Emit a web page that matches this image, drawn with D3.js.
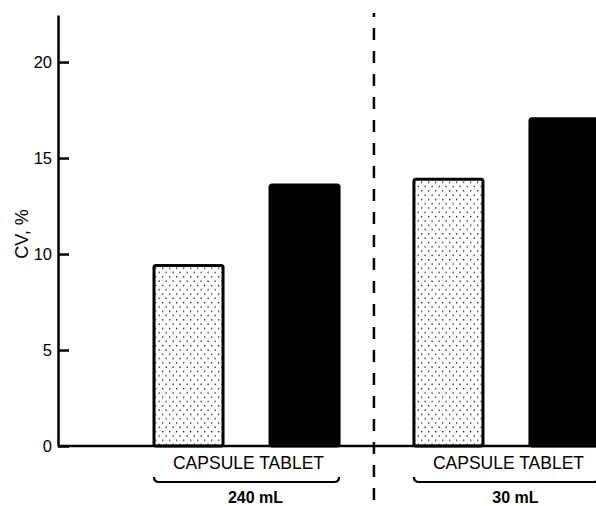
<!DOCTYPE html>
<html>
<head>
<meta charset="utf-8">
<script src="https://cdn.jsdelivr.net/npm/d3@7"></script>
<style>
  body { margin: 0; background: #fff; }
  text { font-family: "Liberation Sans", Arial, Helvetica, sans-serif; fill: #000; }
</style>
</head>
<body>
<div id="chart"></div>
<script>
// Data
const volumes = ["240 mL", "30 mL"];
const forms = ["CAPSULE", "TABLET"];
const cv240 = [9.4, 13.6];
const cv30 = [13.9, 17.05];
const yTicks = [0, 5, 10, 15, 20];

const data = [];
volumes.forEach((v, i) => {
  const vals = i === 0 ? cv240 : cv30;
  forms.forEach((f, j) => data.push({ volume: v, form: f, value: vals[j] }));
});

const width = 596, height = 506;

const svg = d3.select("#chart")
  .append("svg")
  .attr("width", width)
  .attr("height", height);

// dotted fill for capsules
const defs = svg.append("defs");
const pat = defs.append("pattern")
  .attr("id", "dots")
  .attr("patternUnits", "userSpaceOnUse")
  .attr("width", 7)
  .attr("height", 8.6);
pat.append("rect").attr("x", 1).attr("y", 1).attr("width", 1.3).attr("height", 1.3).attr("fill", "#111");
pat.append("rect").attr("x", 4.5).attr("y", 5.3).attr("width", 1.3).attr("height", 1.3).attr("fill", "#111");

// Scales
const y = d3.scaleLinear()
  .domain([0, 22.45])
  .range([446, 15]);

const xGroup = d3.scaleBand()
  .domain(volumes)
  .range([154, 599])
  .paddingInner(0.288)
  .paddingOuter(0);

const xForm = d3.scaleBand()
  .domain(forms)
  .range([0, xGroup.bandwidth()])
  .paddingInner(0.405)
  .paddingOuter(0);

const axisX = 58;

// Y axis, ticks pointing inward
const yAxis = d3.axisLeft(y)
  .tickValues(yTicks)
  .tickSizeInner(-11)
  .tickSizeOuter(0)
  .tickPadding(6);

const gy = svg.append("g")
  .attr("transform", `translate(${axisX},0)`)
  .call(yAxis);
gy.select(".domain").attr("stroke", "#000").attr("stroke-width", 2.5);
gy.selectAll(".tick line").attr("stroke", "#000").attr("stroke-width", 2.5);
gy.selectAll(".tick text")
  .attr("font-size", 16.5)
  .attr("font-family", "Liberation Sans, Arial, sans-serif")
  .attr("fill", "#000");

// Y label
svg.append("text")
  .attr("transform", `translate(28,${234}) rotate(-90)`)
  .attr("text-anchor", "middle")
  .attr("font-size", 18)
  .text("CV, %");

// Baseline
svg.append("line")
  .attr("x1", axisX)
  .attr("x2", width)
  .attr("y1", y(0))
  .attr("y2", y(0))
  .attr("stroke", "#000")
  .attr("stroke-width", 2.5);

// Bars
svg.selectAll(".bar")
  .data(data)
  .join("rect")
  .attr("class", "bar")
  .attr("x", d => xGroup(d.volume) + xForm(d.form))
  .attr("y", d => y(d.value))
  .attr("width", xForm.bandwidth())
  .attr("height", d => y(0) - y(d.value))
  .attr("rx", 2)
  .attr("fill", d => d.form === "CAPSULE" ? "url(#dots)" : "#000")
  .attr("stroke", "#000")
  .attr("stroke-width", 3);

// Dashed separator
const sepX = xGroup(volumes[1]) - 40;
svg.append("line")
  .attr("x1", sepX)
  .attr("x2", sepX)
  .attr("y1", 13)
  .attr("y2", height)
  .attr("stroke", "#000")
  .attr("stroke-width", 2.5)
  .attr("stroke-dasharray", "12,11")
  .attr("stroke-dashoffset", 8);

// Group labels and brackets
volumes.forEach(v => {
  const x0 = xGroup(v);
  const x1 = x0 + xGroup.bandwidth();
  const cx = (x0 + x1) / 2;

  svg.append("text")
    .attr("x", cx + 2)
    .attr("y", 469)
    .attr("text-anchor", "middle")
    .attr("font-size", 17.5)
    .text(forms.join(" "));

  svg.append("path")
    .attr("d", `M${x0},477 Q${x0},482 ${x0 + 5},482 L${x1 - 5},482 Q${x1},482 ${x1},477`)
    .attr("fill", "none")
    .attr("stroke", "#000")
    .attr("stroke-width", 2.2);

  svg.append("text")
    .attr("x", cx + 9)
    .attr("y", 503)
    .attr("text-anchor", "middle")
    .attr("font-size", 16)
    .attr("font-weight", "bold")
    .text(v);
});
</script>
</body>
</html>
